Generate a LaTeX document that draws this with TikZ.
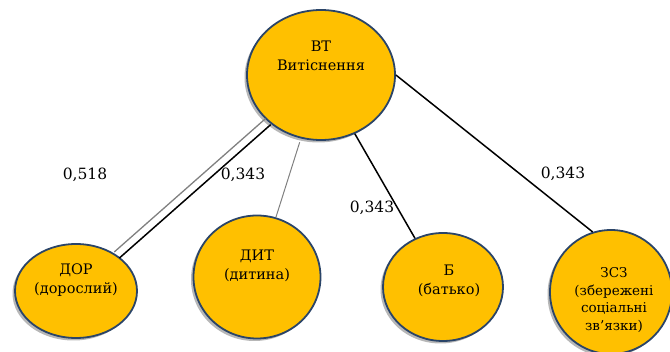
\documentclass[tikz,border=0pt]{standalone}
\usepackage{fontspec}
\setmainfont{DejaVu Serif}
\usetikzlibrary{shapes.geometric, shadows}
\definecolor{gold}{HTML}{FFC000}
\definecolor{rim}{HTML}{2A4468}
\definecolor{shadowgray}{rgb}{0.6,0.6,0.6}

\begin{document}
\begin{tikzpicture}[x=1pt, y=-1pt,
		oval/.style={ellipse, draw=rim, line width=1.8pt, fill=gold, inner sep=0pt,
			drop shadow={shadow xshift=-2.5pt, shadow yshift=-2.5pt, fill=shadowgray, opacity=0.7}},
		txt/.style={align=center, font=\fontsize{14.5}{19}\selectfont},
		small txt/.style={align=center, font=\fontsize{13.5}{17.5}\selectfont},
		weight/.style={font=\fontsize{15.5}{20}\selectfont},
		link/.style={draw, line width=1.5pt},
		grey link/.style={draw=gray, line width=1.3pt}
	]
	\useasboundingbox (0,0) rectangle (670,352);

	% top
	\node[oval, minimum width=148pt, minimum height=130pt] (vt) at (321,75) {};
	\node[txt] (vt-text) at (321,56) {ВТ\\Витіснення};

	% bottom row
	\node[oval, minimum width=122pt, minimum height=94pt] (dor) at (76,291) {};
	\node[txt] (dor-text) at (76,280) {ДОР\\(дорослий)};
	\node[oval, minimum width=127pt, minimum height=123pt] (dyt) at (257,277) {};
	\node[txt] (dyt-text) at (257,266) {ДИТ\\(дитина)};
	\node[oval, minimum width=120pt, minimum height=108pt] (b) at (443,287) {};
	\node[txt] (b-text) at (449,281) {Б\\(батько)};
	\node[oval, minimum width=122pt, minimum height=124pt] (zsz) at (611,292) {};
	\node[small txt] (zsz-text) at (614,300) {ЗСЗ\\(збережені\\соціальні\\зв’язки)};

	% links
	\draw[grey link, transform canvas={shift={(-2.6pt,3pt)}}] (vt) -- (dor);
	\draw[link, transform canvas={shift={(2.6pt,-3pt)}}] (vt) -- (dor);
	\draw[grey link, line width=1pt, shorten <=4pt] (vt) -- (dyt);
	\draw[link] (vt) -- (b);
	\draw[link] (vt.east) -- (zsz.107);

	% weights
	\foreach \n/\x/\y/\v in {dor/85/175/{0,518}, dyt/243/175/{0,343}, b/372/208/{0,343}, zsz/563/174/{0,343}} {
		\node[weight] (w-\n) at (\x,\y) {\v};
	}

\end{tikzpicture}
\end{document}
